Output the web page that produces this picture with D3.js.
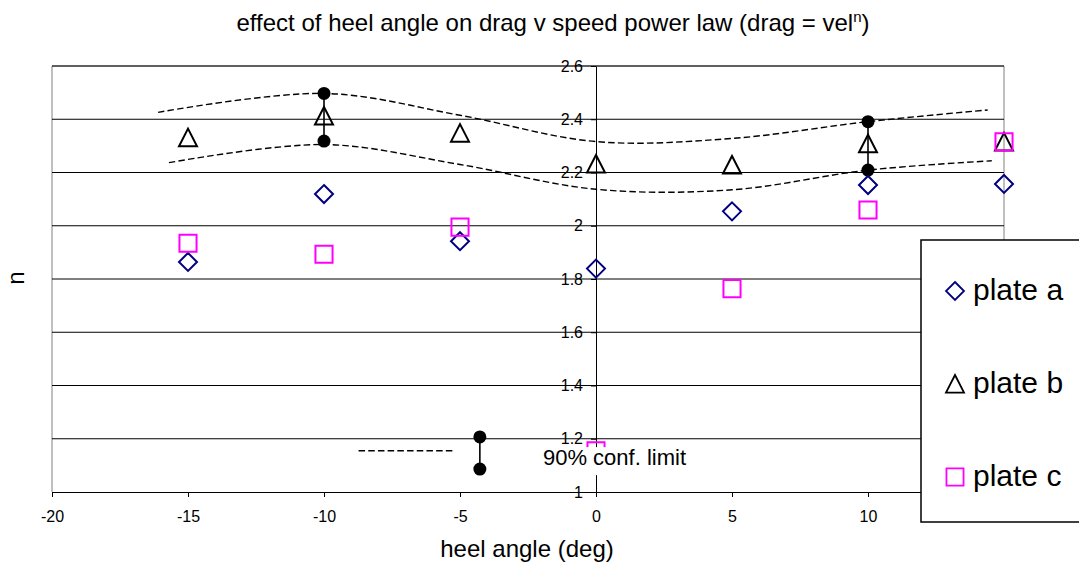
<!DOCTYPE html>
<html>
<head>
<meta charset="utf-8">
<script src="https://cdn.jsdelivr.net/npm/d3@7"></script>
<style>
  html, body { margin: 0; padding: 0; background: #fff; }
  svg { display: block; font-family: "Liberation Sans", Arial, sans-serif; }
</style>
</head>
<body>
<svg id="chart" width="1079" height="570"></svg>
<script>
// Heel angle (deg) at which each plate was towed
const heel = [-15, -10, -5, 0, 5, 10, 15];

// Fitted power-law exponent n for each plate
const plateA = [1.864, 2.119, 1.942, 1.839, 2.054, 2.153, 2.157];
const plateB = [2.331, 2.412, 2.348, 2.232, 2.228, 2.308, 2.315];
const plateC = [1.934, 1.893, 1.995, 1.155, 1.764, 2.059, 2.315];

// 90% confidence limits measured at two heel angles
const confX = [-10, 10];
const confUpper = [2.497, 2.391];
const confLower = [2.318, 2.209];

// Hand-fitted confidence band (heel angle, n)
const bandUpper = [[-16.1, 2.426], [-10, 2.497], [-5, 2.415], [0, 2.316], [5, 2.328], [10, 2.391], [14.4, 2.435]];
const bandLower = [[-15.7, 2.237], [-10, 2.305], [-5, 2.23], [0, 2.137], [5, 2.135], [10, 2.209], [14.55, 2.244]];

// Key for the confidence markings, placed in data units
const keyDash = [[-8.73, 1.155], [-5.27, 1.155]];
const keyBar = { x: -4.27, hi: 1.207, lo: 1.086 };
const keyText = { x: -1.95, y: 1.101, label: "90% conf. limit" };

// Axis ticks
const xTicks = [-20, -15, -10, -5, 0, 5, 10, 15];
const yTicks = [1, 1.2, 1.4, 1.6, 1.8, 2, 2.2, 2.4, 2.6];

const series = [
  { name: "plate a", values: plateA, shape: "diamond", color: "#000080" },
  { name: "plate b", values: plateB, shape: "triangle", color: "#000000" },
  { name: "plate c", values: plateC, shape: "square", color: "#FF00FF" }
];

const svg = d3.select("#chart");
const plotLeft = 52, plotRight = 1004, plotTop = 66, plotBottom = 492;

const x = d3.scaleLinear().domain([-20, 15]).range([plotLeft, plotRight]);
const y = d3.scaleLinear().domain([1, 2.6]).range([plotBottom, plotTop]);

function shapePath(shape, s) {
  if (shape === "diamond") return `M0,${-s}L${s},0L0,${s}L${-s},0Z`;
  if (shape === "triangle") return `M0,${-s}L${s},${s * 0.95}L${-s},${s * 0.95}Z`;
  return `M${-s * 0.95},${-s * 0.95}H${s * 0.95}V${s * 0.95}H${-s * 0.95}Z`;
}

// Plot frame
svg.append("g")
  .attr("fill", "none").attr("stroke", "#808080").attr("stroke-width", 1)
  .call(g => {
    g.append("line").attr("x1", plotLeft).attr("x2", plotRight).attr("y1", plotTop).attr("y2", plotTop);
    g.append("line").attr("x1", plotLeft).attr("x2", plotLeft).attr("y1", plotTop).attr("y2", plotBottom);
    g.append("line").attr("x1", plotRight).attr("x2", plotRight).attr("y1", plotTop).attr("y2", plotBottom);
  });

// Horizontal gridlines
svg.append("g")
  .selectAll("line")
  .data(yTicks.filter(v => v > 1))
  .join("line")
  .attr("x1", plotLeft).attr("x2", plotRight)
  .attr("y1", d => y(d)).attr("y2", d => y(d))
  .attr("stroke", "#000").attr("stroke-width", 1);

// X axis along n = 1 (plain hyphen for negatives)
const xAxis = svg.append("g")
  .attr("transform", `translate(0,${y(1)})`)
  .call(d3.axisBottom(x).tickValues(xTicks).tickFormat(d => String(d))
    .tickSize(5).tickSizeOuter(0).tickPadding(14));
xAxis.selectAll("text").attr("font-size", 16).attr("font-family", null).attr("fill", "#000");
xAxis.selectAll("path, line").attr("stroke", "#000");

// Y axis crossing at zero heel
const yAxis = svg.append("g")
  .attr("transform", `translate(${x(0)},0)`)
  .call(d3.axisLeft(y).tickValues(yTicks).tickFormat(d => String(+d.toFixed(1)))
    .tickSize(5).tickSizeOuter(0).tickPadding(8));
yAxis.selectAll("text").attr("font-size", 16).attr("font-family", null).attr("fill", "#000");
yAxis.selectAll("path, line").attr("stroke", "#000");

// Confidence band
const band = d3.line().x(d => x(d[0])).y(d => y(d[1])).curve(d3.curveCatmullRom.alpha(0.5));
svg.append("g")
  .selectAll("path")
  .data([bandUpper, bandLower])
  .join("path")
  .attr("d", band)
  .attr("fill", "none").attr("stroke", "#000")
  .attr("stroke-width", 1.4).attr("stroke-dasharray", "6.5,3.2");

// Confidence limit bars
const conf = confX.map((cx, i) => ({ x: cx, hi: confUpper[i], lo: confLower[i] }));
const confG = svg.append("g");
confG.selectAll("line")
  .data(conf)
  .join("line")
  .attr("x1", d => x(d.x)).attr("x2", d => x(d.x))
  .attr("y1", d => y(d.hi)).attr("y2", d => y(d.lo))
  .attr("stroke", "#000").attr("stroke-width", 1.6);
confG.selectAll("circle")
  .data(conf.flatMap(d => [{ x: d.x, v: d.hi }, { x: d.x, v: d.lo }]))
  .join("circle")
  .attr("cx", d => x(d.x)).attr("cy", d => y(d.v)).attr("r", 6.5)
  .attr("fill", "#000");

// Plate markers
series.forEach(s => {
  svg.append("g")
    .selectAll("path")
    .data(heel.map((h, i) => ({ h, v: s.values[i] })))
    .join("path")
    .attr("transform", d => `translate(${x(d.h)},${y(d.v)})`)
    .attr("d", shapePath(s.shape, 9))
    .attr("fill", "none").attr("stroke", s.color).attr("stroke-width", 2);
});

// Key for the confidence markings
const key = svg.append("g");
key.append("path")
  .attr("d", d3.line().x(d => x(d[0])).y(d => y(d[1]))(keyDash))
  .attr("fill", "none").attr("stroke", "#000").attr("stroke-width", 1.4).attr("stroke-dasharray", "6.5,3.2");
key.append("line")
  .attr("x1", x(keyBar.x)).attr("x2", x(keyBar.x))
  .attr("y1", y(keyBar.hi)).attr("y2", y(keyBar.lo))
  .attr("stroke", "#000").attr("stroke-width", 1.6);
key.selectAll("circle")
  .data([keyBar.hi, keyBar.lo])
  .join("circle")
  .attr("cx", x(keyBar.x)).attr("cy", d => y(d)).attr("r", 6.5).attr("fill", "#000");
const keyBg = key.append("rect").attr("fill", "#fff");
const keyLabel = key.append("text")
  .attr("x", x(keyText.x)).attr("y", y(keyText.y))
  .attr("font-size", 22).attr("fill", "#000")
  .text(keyText.label);
const kb = keyLabel.node().getBBox();
keyBg.attr("x", kb.x - 8).attr("y", kb.y + 2).attr("width", kb.width + 16).attr("height", kb.height + 3);

// Legend
const legend = svg.append("g");
legend.append("rect")
  .attr("x", 921).attr("y", 240).attr("width", 200).attr("height", 282)
  .attr("fill", "#fff").attr("stroke", "#000").attr("stroke-width", 1.5);
const items = legend.selectAll("g.item")
  .data(series)
  .join("g")
  .attr("class", "item")
  .attr("transform", (d, i) => `translate(955,${291 + i * 93})`);
items.append("path")
  .attr("d", d => shapePath(d.shape, 9))
  .attr("fill", "none").attr("stroke", d => d.color).attr("stroke-width", 1.8);
items.append("text")
  .attr("x", 18).attr("y", 9)
  .attr("font-size", 30).attr("fill", "#000")
  .text(d => d.name);

// Titles
const title = svg.append("text")
  .attr("x", 553).attr("y", 31)
  .attr("text-anchor", "middle").attr("font-size", 24).attr("fill", "#000");
title.append("tspan").text("effect of heel angle on drag v speed power law (drag = vel");
title.append("tspan").attr("font-size", 15).attr("dy", -9).text("n");
title.append("tspan").attr("dy", 9).text(")");

svg.append("text")
  .attr("x", 527).attr("y", 557)
  .attr("text-anchor", "middle").attr("font-size", 24).attr("fill", "#000")
  .text("heel angle (deg)");

svg.append("text")
  .attr("transform", "translate(24,278) rotate(-90)")
  .attr("text-anchor", "middle").attr("font-size", 24).attr("fill", "#000")
  .text("n");
</script>
</body>
</html>
